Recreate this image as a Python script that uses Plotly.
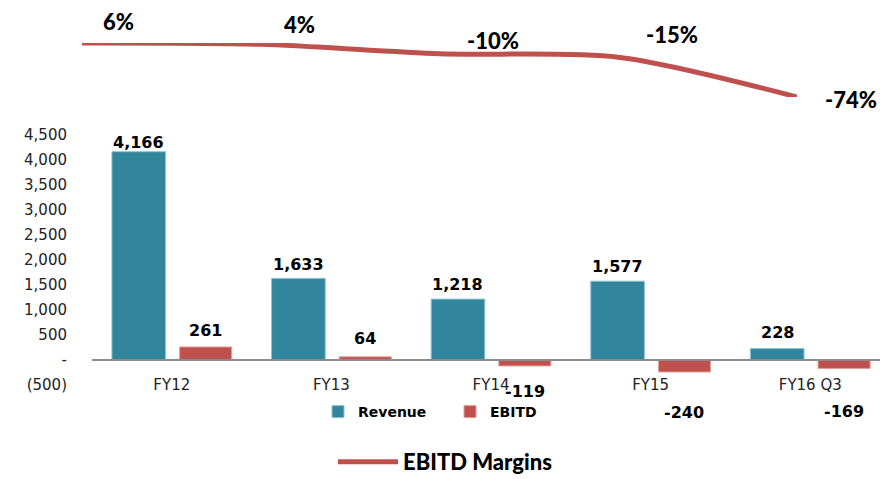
import plotly.graph_objects as go

# ---------------- data ----------------
categories = ["FY12", "FY13", "FY14", "FY15", "FY16 Q3"]
revenue = [4166, 1633, 1218, 1577, 228]
ebitd = [261, 64, -119, -240, -169]
ebitd_margin = [6, 4, -10, -15, -74]          # percent
y_tickvals = [4500, 4000, 3500, 3000, 2500, 2000, 1500, 1000, 500, 0, -500]
y_ticktext = ["4,500", "4,000", "3,500", "3,000", "2,500", "2,000",
              "1,500", "1,000", "500", "-", "(500)"]

# ---------------- styles ----------------
W, H = 880, 479
TEAL = "#31859C"
RED = "#C0504D"
TICK_FONT = dict(family="DejaVu Sans", size=15, color="#222222")
VAL_FONT = dict(family="DejaVu Sans", size=16, color="#000000", weight="bold")
PCT_FONT = dict(family="Lato", size=22, color="#000000", weight=900)

def py(p):  # pixel row -> paper fraction
    return 1 - p / H

rev_offset, rev_width = -0.375, 0.336
ebd_offset, ebd_width = 0.049, 0.326
rev_label_shift = [9, 14, 15, 15, 16]
ebd_label_shift = [16, 18, -26, -40, -43]
pct_xshift = [36, 39, 53, 54, 54]
pct_yshift = [21, 20, 13, 23, -3]

fig = go.Figure()

fig.add_trace(go.Bar(
    x=categories, y=revenue, name="<b>Revenue</b>",
    marker=dict(color=TEAL, line=dict(color="#8FC3D2", width=1)),
    offset=rev_offset, width=rev_width, legend="legend",
    xaxis="x", yaxis="y",
))
fig.add_trace(go.Bar(
    x=categories, y=ebitd, name="<b>EBITD</b>",
    marker=dict(color=RED, line=dict(color="#E0A09E", width=1)),
    offset=ebd_offset, width=ebd_width, legend="legend",
    xaxis="x", yaxis="y",
))

fig.add_trace(go.Scatter(
    x=list(range(len(categories))), y=ebitd_margin, name="EBITD Margins",
    mode="lines", line=dict(color=RED, width=5, shape="spline", smoothing=0.8),
    legend="legend2", xaxis="x2", yaxis="y2", cliponaxis=False,
))

annotations = []
for i, v in enumerate(revenue):
    annotations.append(dict(
        x=i + rev_offset + rev_width / 2, y=v, xref="x", yref="y",
        text=f"{v:,}", showarrow=False, font=VAL_FONT,
        yanchor="middle", yshift=rev_label_shift[i]))
for i, v in enumerate(ebitd):
    annotations.append(dict(
        x=i + ebd_offset + ebd_width / 2, y=v, xref="x", yref="y",
        text=f"{v:,}", showarrow=False, font=VAL_FONT,
        yanchor="middle", yshift=ebd_label_shift[i]))
for i, v in enumerate(ebitd_margin):
    annotations.append(dict(
        x=i, y=v, xref="x2", yref="y2",
        text=f"{v}%", showarrow=False, font=PCT_FONT,
        yanchor="middle", xshift=pct_xshift[i], yshift=pct_yshift[i]))

fig.update_layout(
    width=W, height=H,
    margin=dict(l=0, r=0, t=0, b=0, autoexpand=False),
    paper_bgcolor="white", plot_bgcolor="white",
    barmode="overlay",
    showlegend=True,
    annotations=annotations,
    xaxis=dict(
        type="category", domain=[92 / W, 1.0], range=[-0.5, 4.437],
        anchor="free", position=py(360),
        showline=True, linecolor="#8C8C8C", linewidth=1.5,
        showgrid=False, zeroline=False,
        ticks="outside", ticklen=11, tickcolor="rgba(0,0,0,0)",
        tickfont=TICK_FONT, automargin=False,
    ),
    yaxis=dict(
        domain=[py(385), py(135)], range=[-500, 4500],
        anchor="x", showgrid=False, zeroline=False, showline=False,
        tickvals=y_tickvals, ticktext=y_ticktext, tickfont=TICK_FONT,
        ticklabelstandoff=24, automargin=False,
    ),
    xaxis2=dict(
        domain=[82 / W, 797 / W], range=[0, 4], anchor="y2",
        visible=False,
    ),
    yaxis2=dict(
        domain=[py(97), py(43)], range=[-74, 6], anchor="x2",
        visible=False,
    ),
    legend=dict(
        orientation="h", x=318 / W, y=py(396), xanchor="left", yanchor="top",
        font=dict(family="DejaVu Sans", size=14, color="#000000"),
        entrywidth=87, entrywidthmode="pixels",
        bgcolor="rgba(0,0,0,0)",
    ),
    legend2=dict(
        orientation="h", x=333 / W, y=py(441), xanchor="left", yanchor="top",
        font=dict(family="Lato", size=22, color="#000000", weight=900),
        bgcolor="rgba(0,0,0,0)", itemwidth=60,
    ),
)

fig.write_html(
    "out.html",
    config={"displayModeBar": False},
    post_script="document.body.style.margin='0';document.body.style.overflow='hidden';",
)
